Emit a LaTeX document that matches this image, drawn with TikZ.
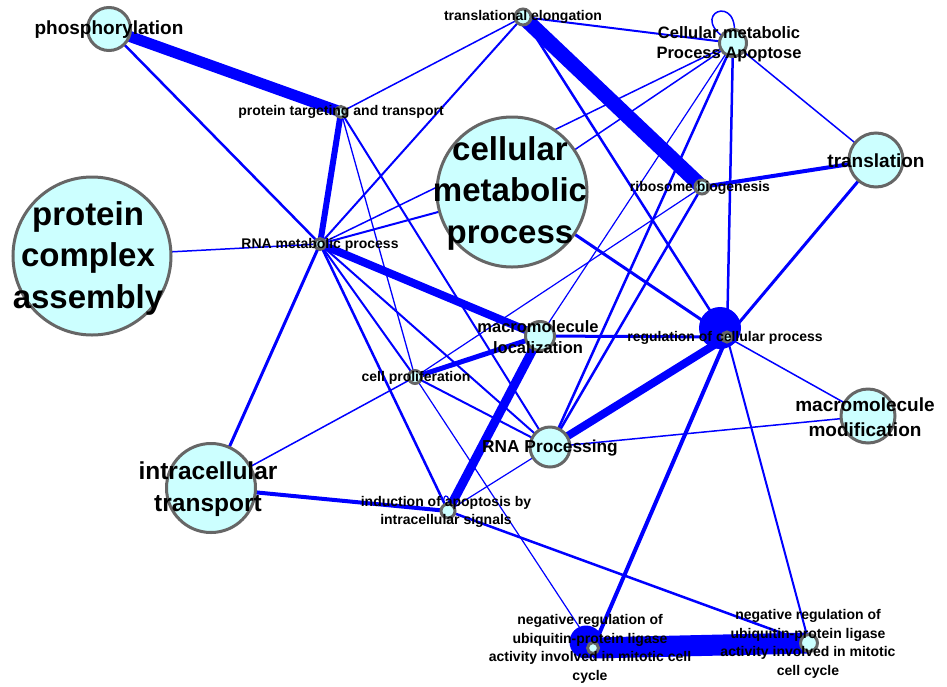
\documentclass[tikz,border=0pt]{standalone}
\usepackage{fontspec}
\setmainfont{Liberation Sans}
\definecolor{eblue}{HTML}{0000FF}
\definecolor{nfill}{HTML}{CCFFFF}
\definecolor{ngray}{HTML}{666666}
\begin{document}
\begin{tikzpicture}[x=1pt,y=-1pt,
  edge/.style={draw=eblue, line cap=round},
  bubble/.style={circle, draw=ngray, line width=3pt, fill=nfill, inner sep=0pt, outer sep=0pt},
  blob/.style={circle, fill=eblue, inner sep=0pt, outer sep=0pt},
  tS/.style={align=center, inner sep=0pt, text=black, font=\fontsize{14}{18.5}\selectfont\bfseries},
  tM/.style={align=center, inner sep=0pt, text=black, font=\fontsize{16.5}{20.5}\selectfont\bfseries},
  tL/.style={align=center, inner sep=0pt, text=black, font=\fontsize{19}{25}\selectfont\bfseries},
  tXL/.style={align=center, inner sep=0pt, text=black, font=\fontsize{24.5}{32}\selectfont\bfseries},
  tXXL/.style={align=center, inner sep=0pt, text=black, font=\fontsize{33}{41.5}\selectfont\bfseries}
]
\useasboundingbox[fill=white] (0,0) rectangle (947,686);
% node centres
\coordinate (phos) at (109,29);
\coordinate (ptt) at (341,112);
\coordinate (tel) at (523,17);
\coordinate (cmpa) at (733,43);
\coordinate (trl) at (876,160);
\coordinate (rib) at (702,187);
\coordinate (cmp) at (512,192);
\coordinate (pca) at (92,256);
\coordinate (rmp) at (320,244);
\coordinate (mloc) at (540,336);
\coordinate (reg) at (727,337);
\coordinate (cpro) at (415,377);
\coordinate (mmod) at (868,416);
\coordinate (rnap) at (550,447);
\coordinate (itr) at (211,488);
\coordinate (ind) at (448,511);
\coordinate (nr1) at (593,648);
\coordinate (nr2) at (809,643);
% edges
\draw[edge, line width=11] (phos) -- (ptt);
\draw[edge, line width=2.5] (phos) -- (rmp);
\draw[edge, line width=6] (ptt) -- (rmp);
\draw[edge, line width=1.5] (ptt) -- (tel);
\draw[edge, line width=1.3] (ptt) -- (cpro);
\draw[edge, line width=2] (ptt) -- (rnap);
\draw[edge, line width=2] (rmp) -- (tel);
\draw[edge, line width=1.5] (rmp) -- (pca);
\draw[edge, line width=1.5] (rmp) -- (cmpa);
\draw[edge, line width=2] (rmp) -- (cmp);
\draw[edge, line width=8] (rmp) -- (mloc);
\draw[edge, line width=3] (rmp) -- (itr);
\draw[edge, line width=2] (rmp) -- (cpro);
\draw[edge, line width=2.5] (rmp) -- (ind);
\draw[edge, line width=2] (rmp) -- (rnap);
\draw[edge, line width=2] (tel) -- (cmpa);
\draw[edge, line width=15] (tel) -- (rib);
\draw[edge, line width=2.5] (tel) -- (reg);
\draw[edge, line width=1.5] (cmpa) .. controls (680,15) and (745,-12) .. (cmpa);
\draw[edge, line width=1.5] (cmpa) -- (trl);
\draw[edge, line width=1.5] (cmpa) -- (cmp);
\draw[edge, line width=1.2] (cmpa) -- (mloc);
\draw[edge, line width=2.5] (cmpa) -- (rnap);
\draw[edge, line width=2.5] (cmpa) -- (reg);
\draw[edge, line width=4] (rib) -- (trl);
\draw[edge, line width=1.2] (rib) -- (cpro);
\draw[edge, line width=2.5] (rib) -- (rnap);
\draw[edge, line width=3] (cmp) -- (reg);
\draw[edge, line width=5] (mloc) -- (cpro);
\draw[edge, line width=9] (mloc) -- (ind);
\draw[edge, line width=3] (mloc) -- (reg);
\draw[edge, line width=8] (reg) -- (rnap);
\draw[edge, line width=1.5] (reg) -- (mmod);
\draw[edge, line width=4] (reg) -- (nr1);
\draw[edge, line width=2] (reg) -- (nr2);
\draw[edge, line width=3] (reg) -- (trl);
\draw[edge, line width=1.5] (rnap) -- (mmod);
\draw[edge, line width=1.2] (rnap) -- (ind);
\draw[edge, line width=2] (rnap) -- (cpro);
\draw[edge, line width=1.5] (cpro) -- (itr);
\draw[edge, line width=1.2] (cpro) -- (nr1);
\draw[edge, line width=4] (ind) -- (itr);
\draw[edge, line width=2.5] (ind) -- (nr2);
\draw[edge, line width=1.2] (ind) .. controls (436,492) and (454,490) .. (ind);
\draw[draw=eblue, line width=21] (nr1) -- (nr2);
% self-loop blobs
\node[blob, minimum size=42] (regblob) at (720,328) {};
\node[blob, minimum size=33] (nr1blob) at (586,642) {};
% node circles
\node[bubble, minimum size=43] (phosC) at (phos) {};
\node[bubble, minimum size=11] (pttC) at (ptt) {};
\node[bubble, minimum size=16] (telC) at (tel) {};
\node[bubble, minimum size=27] (cmpaC) at (cmpa) {};
\node[bubble, minimum size=54] (trlC) at (trl) {};
\node[bubble, minimum size=14] (ribC) at (rib) {};
\node[bubble, minimum size=150] (cmpC) at (cmp) {};
\node[bubble, minimum size=158] (pcaC) at (pca) {};
\node[bubble, minimum size=11] (rmpC) at (rmp) {};
\node[bubble, minimum size=29] (mlocC) at (mloc) {};
\node[bubble, minimum size=10] (regC) at (reg) {};
\node[bubble, minimum size=13] (cproC) at (cpro) {};
\node[bubble, minimum size=54] (mmodC) at (mmod) {};
\node[bubble, minimum size=40] (rnapC) at (rnap) {};
\node[bubble, minimum size=89] (itrC) at (itr) {};
\node[bubble, minimum size=14] (indC) at (ind) {};
\node[bubble, minimum size=11] (nr1C) at (nr1) {};
\node[bubble, minimum size=17] (nr2C) at (nr2) {};
% labels
\node[tL] (phosL) at (109,30) {phosphorylation};
\node[tS] (pttL) at (341,112) {protein targeting and transport};
\node[tS] (telL) at (523,17) {translational elongation};
\node[tM] (cmpaL) at (729,44) {Cellular metabolic\\Process Apoptose};
\node[tL] (trlL) at (876,161) {translation};
\node[tS] (ribL) at (700,188) {ribosome biogenesis};
\node[tXXL] (cmpL) at (510,193) {cellular\\metabolic\\process};
\node[tXXL] (pcaL) at (88,258) {protein\\complex\\assembly};
\node[tS] (rmpL) at (320,245) {RNA metabolic process};
\node[tM] (mlocL) at (538,337) {macromolecule\\localization};
\node[tS] (regL) at (725,338) {regulation of cellular process};
\node[tS] (cproL) at (416,378) {cell proliferation};
\node[tL] (mmodL) at (865,417) {macromolecule\\modification};
\node[tM, font=\fontsize{17.3}{21}\selectfont\bfseries] (rnapL) at (550,448) {RNA Processing};
\node[tXL] (itrL) at (208,489) {intracellular\\transport};
\node[tS] (indL) at (446,512) {induction of apoptosis by\\intracellular signals};
\node[tS] (nr1L) at (590,649) {negative regulation of\\ubiquitin-protein ligase\\activity involved in mitotic cell\\cycle};
\node[tS] (nr2L) at (808,644) {negative regulation of\\ubiquitin-protein ligase\\activity involved in mitotic\\cell cycle};
\end{tikzpicture}
\end{document}
